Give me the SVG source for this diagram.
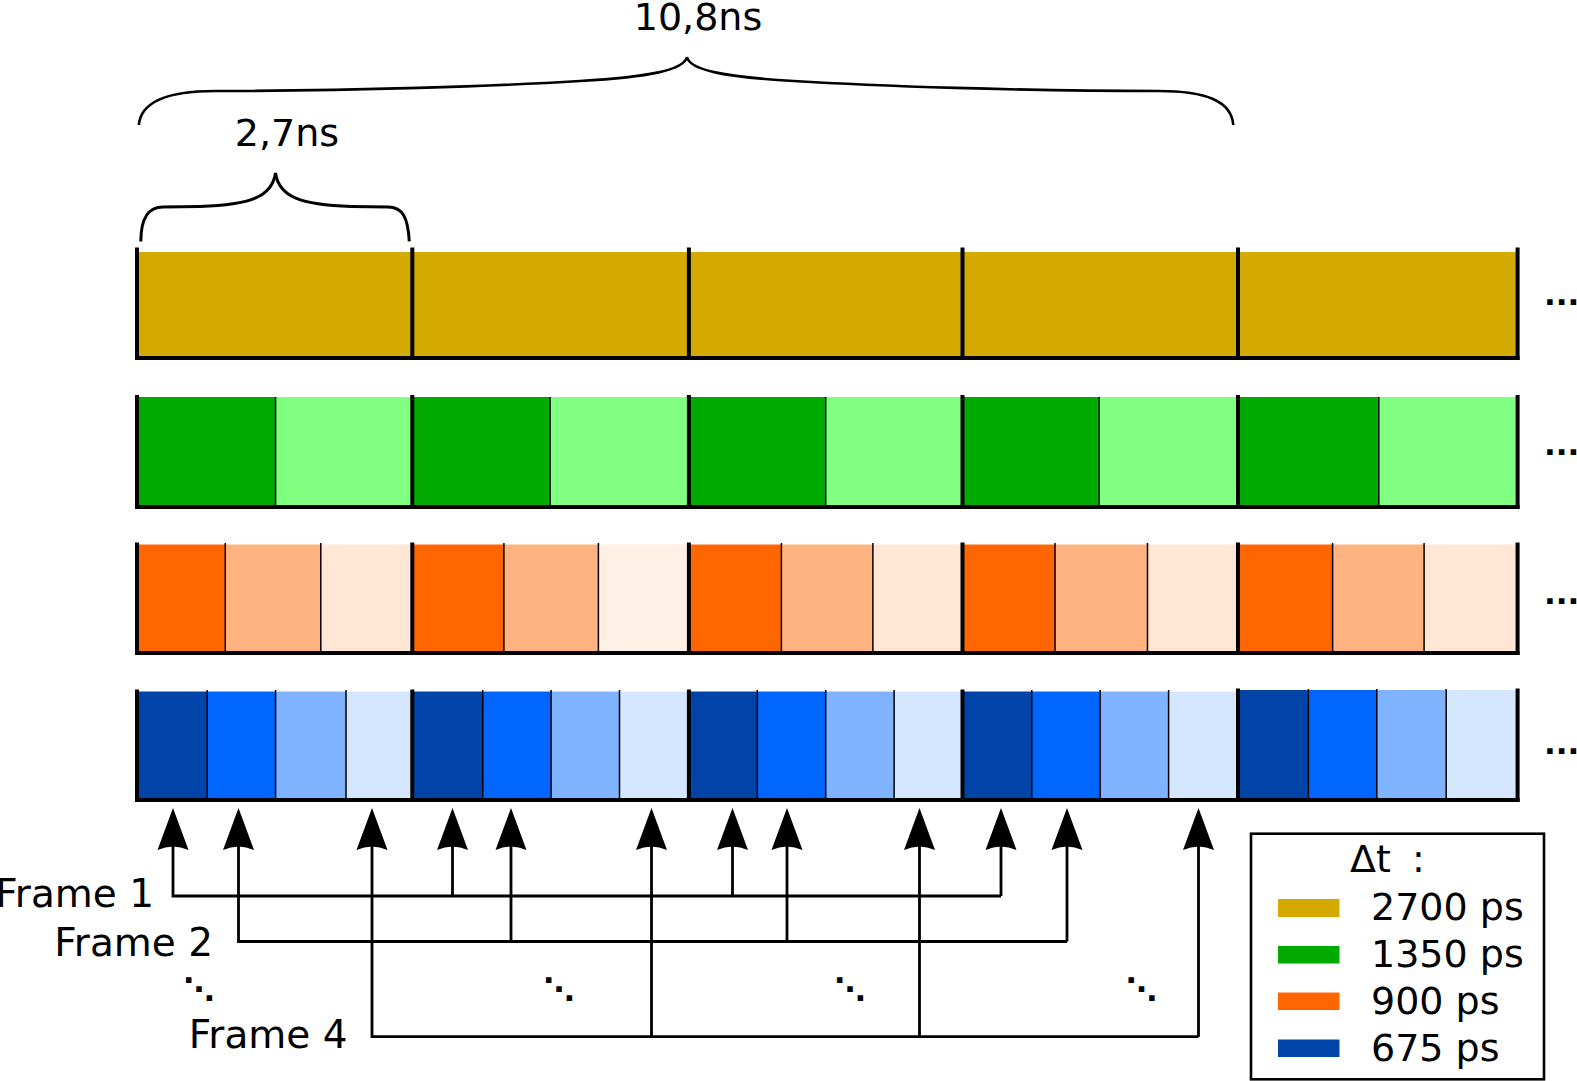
<svg xmlns="http://www.w3.org/2000/svg" width="1577" height="1081" viewBox="0 0 1577 1081">
<defs>
<style>
text{font-family:"DejaVu Sans","Liberation Sans",sans-serif;fill:#000}
.t{font-size:38px}
.f{font-size:39px}
.base{stroke:#000;stroke-width:4;fill:none}
.thick{stroke:#000;stroke-width:4;fill:none}
.thin{stroke:#000;stroke-width:1.5;fill:none}
.brace{stroke:#000;stroke-width:2.6;fill:none}
.conn{stroke:#000;stroke-width:2.8;fill:none}
.gold{fill:#d4aa00}
.g1{fill:#00aa00}.g2{fill:#80ff80}
.o1{fill:#ff6600}.o2{fill:#ffb380}.o3{fill:#ffe6d5}.o4{fill:#fff0e6}
.b1{fill:#0044aa}.b2{fill:#0066ff}.b3{fill:#80b3ff}.b4{fill:#d5e6ff}
.dots{font-size:31px;font-weight:bold}
.diag{font-size:31px;font-weight:bold}
</style>
<path id="ah" d="M0,0 L15.5,42 Q0,35 -15.5,42 Z" fill="#000"/>
</defs>
<rect width="1577" height="1081" fill="#fff"/>

<g id="brace-10-8ns">
<path class="brace" d="M686.9,57 C684,70 650,77 580,81 C500,86 350,91 215,91 C168,91 141,101 138.8,125 M686.9,57 C689.8,70 723.8,77 793.8,81 C873.8,86 1023.8,91 1158.8,91 C1205.8,91 1231.5,101 1233.3,125"/>
<text class="t" x="698" y="30" text-anchor="middle">10,8ns</text>
</g>
<g id="brace-2-7ns">
<path class="brace" style="stroke-width:3" d="M140.8,241.4 C141,218 148,207 163,207 L200,206.5 C250,205 272,197 275.5,173 C279,197 301,205 351,206.5 L388,207 C403,207 408,218 409.3,241.4"/>
<text class="t" x="287" y="146" text-anchor="middle">2,7ns</text>
</g>

<g id="row-2700">
<rect class="gold" x="137" y="252" width="1380.6" height="106"/>
<path class="base" d="M135,358 H1519.6"/>
<path class="thick" d="M137,247.5 V360 M412.3,247.5 V360 M688.9,247.5 V360 M962.5,247.5 V360 M1238,247.5 V360 M1517.6,247.5 V360"/>
<text class="dots" x="1544" y="305">...</text>
</g>

<g id="row-1350">
<rect class="g1" x="137" y="397" width="138.6" height="110"/>
<rect class="g2" x="275.6" y="397" width="136.7" height="110"/>
<rect class="g1" x="412.3" y="397" width="137.8" height="110"/>
<rect class="g2" x="550.1" y="397" width="138.8" height="110"/>
<rect class="g1" x="688.9" y="397" width="136.8" height="110"/>
<rect class="g2" x="825.7" y="397" width="136.8" height="110"/>
<rect class="g1" x="962.5" y="397" width="136.7" height="110"/>
<rect class="g2" x="1099.2" y="397" width="138.8" height="110"/>
<rect class="g1" x="1238" y="397" width="140.8" height="110"/>
<rect class="g2" x="1378.8" y="397" width="138.8" height="110"/>
<path class="thin" d="M275.6,397 V507 M550.1,397 V507 M825.7,397 V507 M1099.2,397 V507 M1378.8,397 V507"/>
<path class="base" d="M135,507 H1519.6"/>
<path class="thick" d="M137,395 V509 M412.3,395 V509 M688.9,395 V509 M962.5,395 V509 M1238,395 V509 M1517.6,395 V509"/>
<text class="dots" x="1544" y="455">...</text>
</g>

<g id="row-900">
<rect class="o1" x="137" y="544.5" width="88.3" height="108.5"/>
<rect class="o2" x="225.3" y="544.5" width="95.5" height="108.5"/>
<rect class="o3" x="320.8" y="544.5" width="91.5" height="108.5"/>
<rect class="o1" x="412.3" y="544.5" width="91.6" height="108.5"/>
<rect class="o2" x="503.9" y="544.5" width="94.5" height="108.5"/>
<rect class="o4" x="598.4" y="544.5" width="90.5" height="108.5"/>
<rect class="o1" x="688.9" y="544.5" width="92.5" height="108.5"/>
<rect class="o2" x="781.4" y="544.5" width="91.5" height="108.5"/>
<rect class="o3" x="872.9" y="544.5" width="89.6" height="108.5"/>
<rect class="o1" x="962.5" y="544.5" width="92.5" height="108.5"/>
<rect class="o2" x="1055" y="544.5" width="92.5" height="108.5"/>
<rect class="o3" x="1147.5" y="544.5" width="90.5" height="108.5"/>
<rect class="o1" x="1238" y="544.5" width="94.6" height="108.5"/>
<rect class="o2" x="1332.6" y="544.5" width="91.5" height="108.5"/>
<rect class="o3" x="1424.1" y="544.5" width="93.5" height="108.5"/>
<path class="thin" d="M225.3,543 V653 M320.8,543 V653 M503.9,543 V653 M598.4,543 V653 M781.4,543 V653 M872.9,543 V653 M1055,543 V653 M1147.5,543 V653 M1332.6,543 V653 M1424.1,543 V653"/>
<path class="base" d="M135,653 H1519.6"/>
<path class="thick" d="M137,542.5 V655 M412.3,542.5 V655 M688.9,542.5 V655 M962.5,542.5 V655 M1238,542.5 V655 M1517.6,542.5 V655"/>
<text class="dots" x="1544" y="604">...</text>
</g>

<g id="row-675">
<rect class="b1" x="137" y="691.5" width="70.2" height="108.5"/>
<rect class="b2" x="207.2" y="691.5" width="68.4" height="108.5"/>
<rect class="b3" x="275.6" y="691.5" width="70.4" height="108.5"/>
<rect class="b4" x="346" y="691.5" width="66.3" height="108.5"/>
<rect class="b1" x="412.3" y="691.5" width="70.4" height="108.5"/>
<rect class="b2" x="482.7" y="691.5" width="68.4" height="108.5"/>
<rect class="b3" x="551.1" y="691.5" width="68.4" height="108.5"/>
<rect class="b4" x="619.5" y="691.5" width="69.4" height="108.5"/>
<rect class="b1" x="688.9" y="691.5" width="68.4" height="108.5"/>
<rect class="b2" x="757.3" y="691.5" width="68.4" height="108.5"/>
<rect class="b3" x="825.7" y="691.5" width="68.4" height="108.5"/>
<rect class="b4" x="894.1" y="691.5" width="68.4" height="108.5"/>
<rect class="b1" x="962.5" y="691.5" width="69.3" height="108.5"/>
<rect class="b2" x="1031.8" y="691.5" width="68.4" height="108.5"/>
<rect class="b3" x="1100.2" y="691.5" width="68.4" height="108.5"/>
<rect class="b4" x="1168.6" y="691.5" width="69.4" height="108.5"/>
<rect class="b1" x="1238" y="690" width="70.4" height="110"/>
<rect class="b2" x="1308.4" y="690" width="68.4" height="110"/>
<rect class="b3" x="1376.8" y="690" width="69.4" height="110"/>
<rect class="b4" x="1446.2" y="690" width="71.4" height="110"/>
<path class="thin" d="M207.2,690 V800 M275.6,690 V800 M346,690 V800 M482.7,690 V800 M551.1,690 V800 M619.5,690 V800 M757.3,690 V800 M825.7,690 V800 M894.1,690 V800 M1031.8,690 V800 M1100.2,690 V800 M1168.6,690 V800 M1308.4,689 V800 M1376.8,689 V800 M1446.2,689 V800"/>
<path class="base" d="M135,800 H1519.6"/>
<path class="thick" d="M137,689.5 V802 M412.3,689.5 V802 M688.9,689.5 V802 M962.5,689.5 V802 M1238,688.5 V802 M1517.6,688.5 V802"/>
<text class="dots" x="1544" y="754">...</text>
</g>

<g id="connectors">
<path class="conn" d="M173,845 V896 H1001 M452.5,845 V896 M732.5,845 V896 M1001,845 V896"/>
<path class="conn" d="M238.5,845 V941.5 H1067 M511,845 V941.5 M787,845 V941.5 M1067,845 V941.5"/>
<path class="conn" d="M372,845 V1036.7 H1198.5 M651.5,845 V1036.7 M919.5,845 V1036.7 M1198.5,845 V1036.7"/>
<use href="#ah" x="173" y="808"/>
<use href="#ah" x="238.5" y="808"/>
<use href="#ah" x="372" y="808"/>
<use href="#ah" x="452.5" y="808"/>
<use href="#ah" x="511" y="808"/>
<use href="#ah" x="651.5" y="808"/>
<use href="#ah" x="732.5" y="808"/>
<use href="#ah" x="787" y="808"/>
<use href="#ah" x="919.5" y="808"/>
<use href="#ah" x="1001" y="808"/>
<use href="#ah" x="1067" y="808"/>
<use href="#ah" x="1198.5" y="808"/>
</g>

<g id="frame-labels">
<text class="f" x="154" y="906.5" text-anchor="end">Frame 1</text>
<text class="f" x="213" y="955.5" text-anchor="end">Frame 2</text>
<text class="f" x="347.5" y="1048" text-anchor="end">Frame 4</text>
<text class="diag" x="199" y="1000" text-anchor="middle">⋱</text>
<text class="diag" x="559" y="1000" text-anchor="middle">⋱</text>
<text class="diag" x="850" y="1000" text-anchor="middle">⋱</text>
<text class="diag" x="1141.5" y="1000" text-anchor="middle">⋱</text>
</g>

<g id="legend">
<rect x="1251" y="833.7" width="293" height="245.6" fill="#fff" stroke="#000" stroke-width="2.6"/>
<text class="t" x="1350" y="872">Δt <tspan dx="9">:</tspan></text>
<rect class="gold" x="1278" y="899" width="61.5" height="18"/>
<rect class="g1" x="1278" y="946" width="61.5" height="17.5"/>
<rect class="o1" x="1278" y="992.5" width="61.5" height="17.5"/>
<rect class="b1" x="1278" y="1039.5" width="61.5" height="17.5"/>
<text class="t" x="1371" y="920">2700 ps</text>
<text class="t" x="1371" y="967">1350 ps</text>
<text class="t" x="1371" y="1014">900 ps</text>
<text class="t" x="1371" y="1061">675 ps</text>
</g>
</svg>
